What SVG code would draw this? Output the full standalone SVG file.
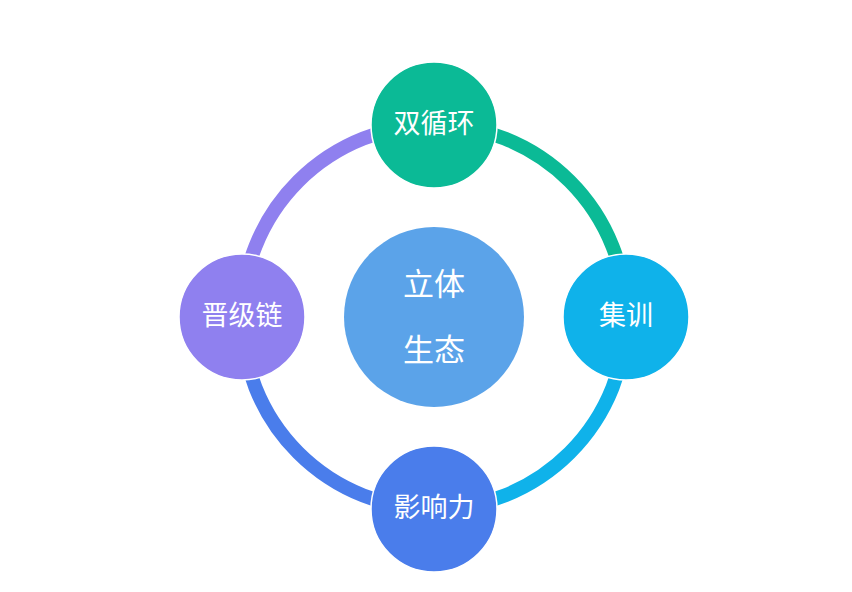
<svg xmlns="http://www.w3.org/2000/svg" width="852" height="592" viewBox="0 0 852 592">
<style>
.arc{fill:none;stroke-width:14}
.node{stroke:#ffffff;stroke-width:1.5}
.t{fill:#ffffff;font-family:"Noto Sans CJK SC","Noto Sans",sans-serif;text-anchor:middle;dominant-baseline:central}
.tn{font-size:27px}
.tc{font-size:31px}
</style>
<rect width="852" height="592" fill="#ffffff"/>
<g id="connectors">
<path class="arc" stroke="#0BBA96" d="M434,125 A192,192 0 0 1 626,317"/>
<path class="arc" stroke="#0FB2EA" d="M626,317 A192,192 0 0 1 434,509"/>
<path class="arc" stroke="#4A7DEB" d="M434,509 A192,192 0 0 1 242,317"/>
<path class="arc" stroke="#8F80EF" d="M242,317 A192,192 0 0 1 434,125"/>
</g>
<g id="center">
<circle cx="434" cy="317" r="90" fill="#5BA3E9"/>
<text class="t tc" x="434" y="281">立体</text>
<text class="t tc" x="434" y="347">生态</text>
</g>
<g id="node-top">
<circle class="node" cx="434" cy="125" r="63" fill="#0BBA96"/>
<text class="t tn" x="434" y="121">双循环</text>
</g>
<g id="node-right">
<circle class="node" cx="626" cy="317" r="63" fill="#0FB2EA"/>
<text class="t tn" x="626" y="313">集训</text>
</g>
<g id="node-bottom">
<circle class="node" cx="434" cy="509" r="63" fill="#4A7DEB"/>
<text class="t tn" x="434" y="505">影响力</text>
</g>
<g id="node-left">
<circle class="node" cx="242" cy="317" r="63" fill="#8F80EF"/>
<text class="t tn" x="242" y="313">晋级链</text>
</g>
</svg>
